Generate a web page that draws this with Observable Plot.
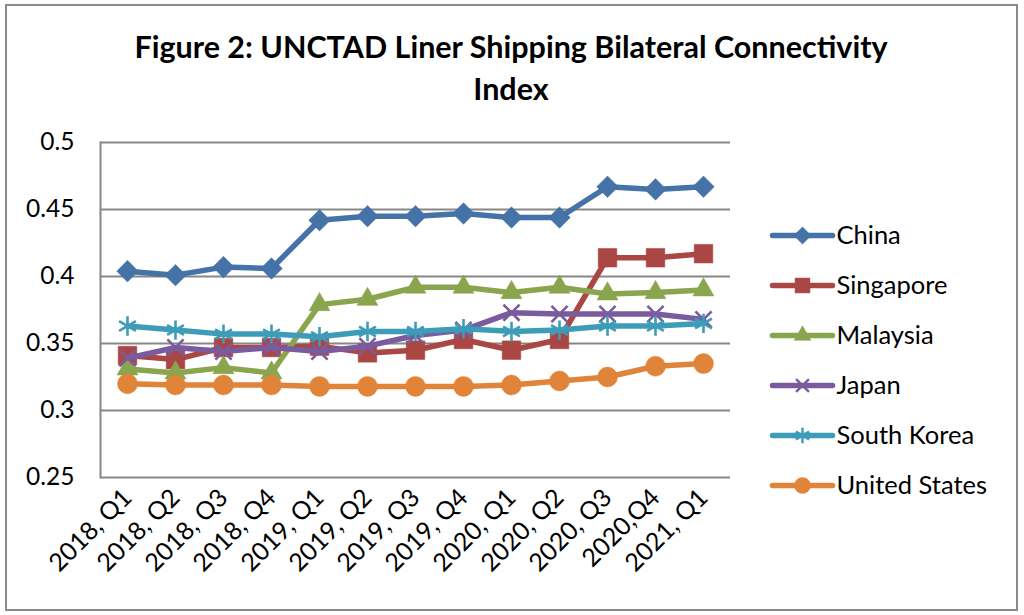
<!DOCTYPE html>
<html><head><meta charset="utf-8">
<script src="https://cdn.jsdelivr.net/npm/d3@7"></script>
<script src="https://cdn.jsdelivr.net/npm/@observablehq/plot@0.6"></script>
<style>
body{margin:0;background:#fff;}
#wrap{position:relative;width:1024px;height:615px;overflow:hidden;background:#fff;font-family:Lato,sans-serif;}
#border{position:absolute;left:5px;top:4px;width:1009px;height:603px;border:2px solid #8a8a8a;}
#title{position:absolute;left:0;width:1022px;top:25px;text-align:center;font-weight:bold;font-size:30.5px;line-height:42px;color:#000;}
#chart,#legend{position:absolute;left:0;top:0;}
#legend{left:760px;top:200px;}
</style></head><body>
<div id="wrap"><div id="border"></div><div id="title">Figure 2: UNCTAD Liner Shipping Bilateral Connectivity<br>Index</div><div id="chart"></div><div id="legend"></div></div>
<script>
const quarters = ["2018, Q1","2018, Q2","2018, Q3","2018, Q4","2019, Q1","2019, Q2","2019, Q3","2019, Q4","2020, Q1","2020, Q2","2020, Q3","2020,Q4","2021, Q1"];
const seriesNames = ["China","Singapore","Malaysia","Japan","South Korea","United States"];
const china      = [0.404,0.401,0.407,0.406,0.442,0.445,0.445,0.447,0.444,0.444,0.467,0.465,0.467];
const singapore  = [0.341,0.338,0.347,0.347,0.348,0.343,0.345,0.353,0.345,0.353,0.414,0.414,0.417];
const malaysia   = [0.331,0.328,0.332,0.328,0.379,0.383,0.392,0.392,0.388,0.392,0.387,0.388,0.390];
const japan      = [0.339,0.347,0.344,0.347,0.344,0.348,0.356,0.360,0.373,0.372,0.372,0.372,0.368];
const southKorea = [0.363,0.360,0.357,0.357,0.355,0.359,0.359,0.361,0.359,0.360,0.363,0.363,0.365];
const us         = [0.320,0.319,0.319,0.319,0.318,0.318,0.318,0.318,0.319,0.322,0.325,0.333,0.335];
const yTicks = [0.25,0.3,0.35,0.4,0.45,0.5];
const yTickLabels = ["0.25","0.3","0.35","0.4","0.45","0.5"];

const colors = ["#4572A7","#AA4643","#89A54E","#7A5C9E","#3D9DB8","#E0843A"];
const values = [china, singapore, malaysia, japan, southKorea, us];
const markers = [
  {symbol:"square", r:8.6, rotate:45, filled:true},
  {symbol:"square", r:10.5, rotate:0, filled:true},
  {symbol:"triangle", r:7.8, rotate:0, filled:true},
  {symbol:"times", r:7.4, rotate:0, filled:false},
  {symbol:"asterisk", r:9.2, rotate:0, filled:false},
  {symbol:"circle", r:10, rotate:0, filled:true}
];

const fontFamily = "Lato, sans-serif";
const marks = [
  Plot.gridY(yTicks, {stroke:"#878787", strokeOpacity:1, strokeWidth:2}),
  Plot.frame({anchor:"left", stroke:"#878787", strokeWidth:2}),
  Plot.axisY(yTicks, {tickSize:0, tickPadding:26, fontSize:24.5, tickFormat:(d)=>yTickLabels[yTicks.indexOf(d)], fill:"#000"}),
  Plot.axisX({tickSize:0, tickRotate:-45, tickPadding:16, fontSize:25, fill:"#000"})
];
seriesNames.forEach((name, si) => {
  const data = quarters.map((q, i) => ({q, v: values[si][i], name}));
  const m = markers[si];
  marks.push(Plot.line(data, {x:"q", y:"v", stroke:colors[si], strokeWidth:5.5, strokeLinejoin:"round", strokeLinecap:"round"}));
  marks.push(Plot.dot(data, {x:"q", y:"v", symbol:()=>m.symbol, r:m.r, rotate:m.rotate,
    fill: m.filled ? colors[si] : "none", stroke: colors[si], strokeWidth: m.filled ? 0.5 : 2.6}));
});

const chart = Plot.plot({
  width:1024, height:615,
  marginTop:142, marginBottom:138, marginLeft:100, marginRight:294,
  style:{fontFamily, background:"transparent", color:"#000"},
  x:{type:"point", domain:quarters, padding:0.5, label:null},
  y:{domain:[0.25,0.5], label:null},
  symbol:{type:"identity"},
  marks
});
document.getElementById("chart").appendChild(chart);

// Legend
const legendData = seriesNames.map((name, si) => ({name, si}));
const legendMarks = [
  Plot.link(legendData, {x1:()=>0, x2:()=>1, y1:"name", y2:"name", stroke:d=>colors[d.si], strokeWidth:5.5, strokeLinecap:"round"}),
  Plot.text(legendData, {x:()=>1, y:"name", text:"name", textAnchor:"start", dx:4, fontSize:25.5, fill:"#000"})
];
legendData.forEach(d => {
  const m = markers[d.si];
  legendMarks.push(Plot.dot([d], {x:()=>0.5, y:"name", symbol:()=>m.symbol, r:m.r*0.8, rotate:m.rotate,
    fill: m.filled ? colors[d.si] : "none", stroke: colors[d.si], strokeWidth: m.filled ? 0.5 : 2.4}));
});
const legend = Plot.plot({
  width:260, height:320,
  marginTop:33, marginBottom:33, marginLeft:12, marginRight:188,
  style:{fontFamily, background:"transparent", overflow:"visible"},
  x:{domain:[0,1], axis:null},
  y:{type:"point", domain:seriesNames, padding:0, axis:null},
  symbol:{type:"identity"},
  color:{type:"identity"},
  marks: legendMarks
});
document.getElementById("legend").appendChild(legend);
</script>
</body></html>
